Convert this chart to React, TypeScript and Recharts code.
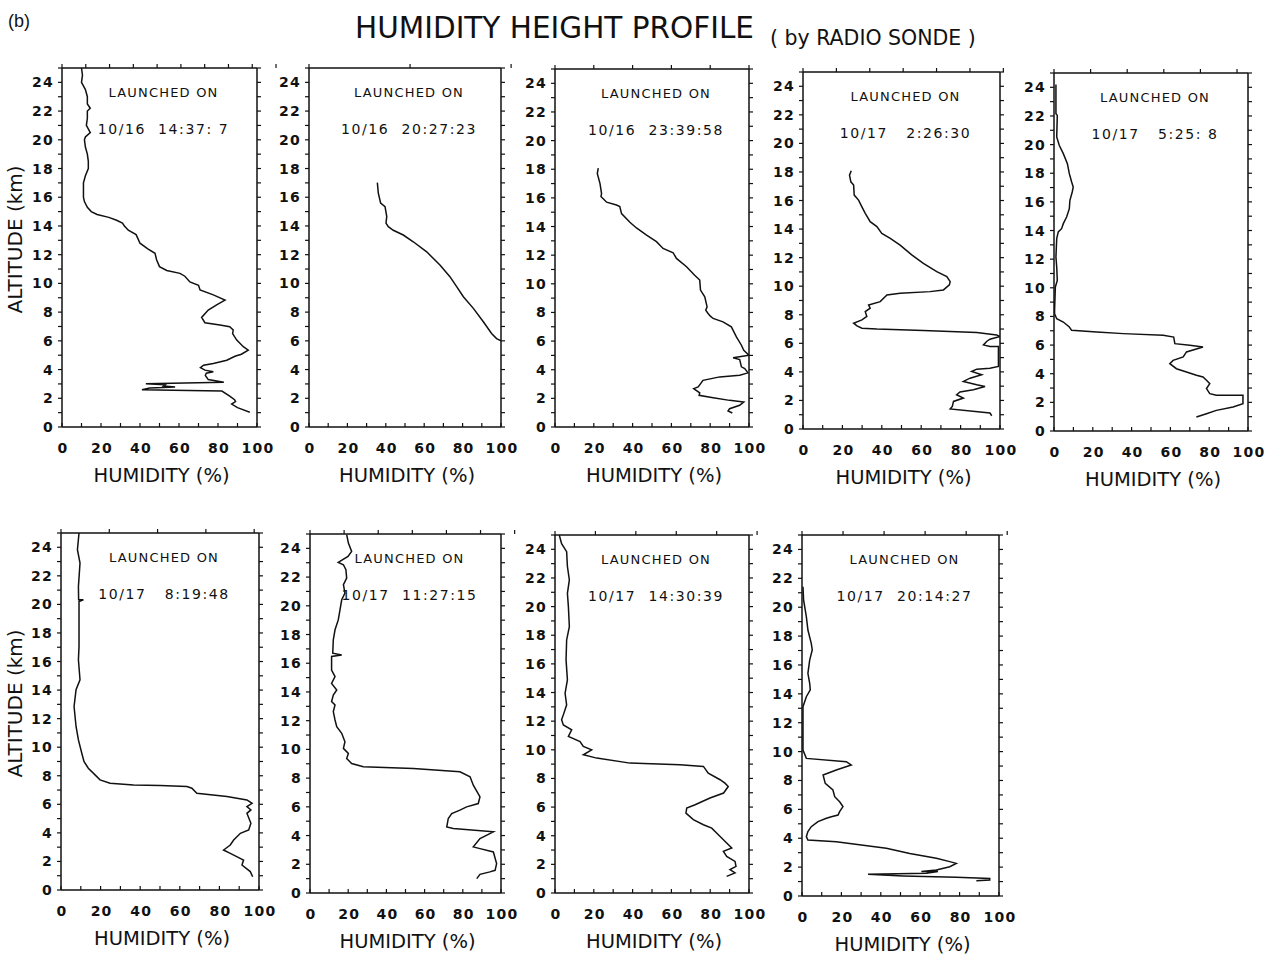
import React from 'react';
import { LineChart, Line, XAxis, YAxis } from 'recharts';

// Each profile: [altitude (km), humidity (%)], from top of sounding downward
const profile1: [number, number][] = [
  [25, 10], [24.5, 10.5], [24, 10], [23.5, 12], [23, 13], [22.5, 13], [22.2, 14.5], [22, 13],
  [21.5, 13], [21, 12.5], [20.5, 14.5], [20.2, 12], [20, 11.5], [19.5, 12], [19, 13], [18.5, 13.5],
  [18, 13.5], [17.5, 12], [17, 11], [16.5, 11], [16, 11], [15.7, 11.5], [15.3, 13], [15, 15],
  [14.8, 18], [14.6, 24], [14.4, 28], [14.2, 31], [14, 32], [13.7, 34], [13.4, 38], [13.1, 39],
  [12.8, 40], [12.4, 44], [12.1, 47.7], [11.65, 48.5], [11.17, 50], [10.9, 53.7], [10.7, 60.5],
  [10.5, 63], [10.1, 65.6], [9.87, 70], [9.54, 70.8], [9.2, 77.6], [8.84, 83.6], [8.5, 79.3],
  [8.14, 75], [7.63, 71.6], [7.26, 73.3], [7.1, 81], [6.98, 86], [6.75, 87.8], [6.5, 87.5],
  [6.05, 89.6], [5.59, 93], [5.35, 95.5], [5.07, 92], [4.93, 88.7], [4.65, 84.5], [4.42, 77.6],
  [4.3, 72.6], [4.13, 71], [3.96, 73.3], [3.84, 77.6], [3.75, 74], [3.6, 73.5], [3.3, 75],
  [3.12, 83], [3.02, 43], [2.95, 53], [2.85, 52], [2.78, 58], [2.72, 45], [2.6, 41], [2.55, 65],
  [2.5, 82], [2.15, 86], [1.9, 88.5], [1.77, 89], [1.6, 87], [1.35, 90], [1.05, 96], [1.0, 96],
];

const profile2: [number, number][] = [
  [17.02, 35.6], [16.28, 36.1], [15.6, 37.3], [15.35, 39.6], [14.65, 40.5], [14.2, 40.1],
  [13.95, 41.3], [13.7, 43.9], [13.37, 49.1], [12.9, 54.3], [12.2, 61.3], [11.28, 68.2],
  [10.47, 73.4], [9.77, 76.9], [9.07, 80.4], [8.26, 85.6], [7.33, 90.8], [6.51, 95.1],
  [6.16, 97.7], [6.0, 100],
];

const profile3: [number, number][] = [
  [18.07, 22.3], [17.7, 21.8], [17.0, 23.2], [16.3, 24.0], [16.1, 23.7], [15.7, 26.6], [15.5, 31.7],
  [15.4, 33.4], [14.9, 34.3], [14.3, 38.6], [13.9, 42.0], [13.4, 47.2], [12.94, 52.3], [12.47, 55.7],
  [12.17, 60.9], [11.77, 62.6], [11.19, 67.8], [10.6, 72.0], [10.26, 74.6], [9.56, 75.0], [9.09, 77.2],
  [8.39, 78.4], [8.16, 77.7], [7.93, 78.9], [7.74, 80.1], [7.58, 81.5], [7.34, 86.6], [6.99, 90.9],
  [6.29, 93.5], [5.71, 96.1], [5.36, 97.3], [5.01, 100], [4.83, 91.8], [4.71, 95.2], [4.2, 96.1],
  [4.08, 97.8], [3.78, 99.5], [3.61, 95.2], [3.5, 84.9], [3.26, 76.3], [2.8, 73.8], [2.68, 71.5],
  [2.38, 74.6], [2.21, 74.3], [2.05, 81.5], [1.86, 90], [1.75, 97.3], [1.52, 95.2], [1.28, 90],
  [1.12, 89.2], [0.98, 91.4],
];

const profile4: [number, number][] = [
  [18.08, 24.5], [17.78, 23.6], [17.31, 24.3], [17.08, 25.7], [16.38, 26.0], [16.03, 28.2],
  [15.56, 29.9], [15.1, 31.6], [14.52, 34.1], [14.17, 37.5], [13.7, 40.0], [13.35, 44.3],
  [12.88, 49.3], [12.19, 55.2], [11.6, 61.1], [11.02, 67.9], [10.67, 73.0], [10.32, 74.7],
  [10.09, 74.3], [9.74, 71.3], [9.62, 64.5], [9.51, 49.3], [9.39, 42.6], [8.92, 39.2], [8.69, 33.3],
  [8.46, 34.1], [8.22, 31.6], [7.88, 32.4], [7.64, 29.9], [7.41, 25.7], [7.22, 27.4], [7.06, 29.9],
  [7.0, 37.5], [6.9, 61.1], [6.76, 88.2], [6.59, 98.3], [6.48, 100], [6.29, 94.9], [6.13, 93.2],
  [5.89, 91.6], [5.78, 94.9], [5.78, 99.2], [4.38, 99.2], [4.26, 94.9], [4.19, 88.2], [4.03, 85.6],
  [3.8, 90.7], [3.56, 84.8], [3.33, 81.4], [3.1, 88.2], [2.98, 92.4], [2.75, 86.5], [2.59, 79.7],
  [2.4, 78.0], [2.17, 81.4], [1.93, 76.4], [1.58, 75.8], [1.4, 74.7], [1.12, 94.9], [0.93, 95.8],
];

const profile5: [number, number][] = [
  [24.2, 1.0], [22.16, 1.0], [22.04, 1.7], [20.53, 1.4], [19.95, 2.7], [19.37, 4.8], [18.67, 6.9],
  [17.97, 7.9], [17.39, 9.1], [17.04, 9.9], [16.69, 9.4], [16.11, 8.2], [15.53, 7.9], [14.94, 6.5],
  [14.48, 4.8], [14.13, 3.9], [13.9, 2.2], [13.43, 1.4], [12.15, 1.0], [11.45, 1.4], [10.52, 1.7],
  [10.06, 0.7], [8.43, 0.3], [8.19, 0.3], [7.84, 1.4], [7.61, 4.8], [7.26, 7.9], [7.03, 9.1],
  [6.91, 22.0], [6.8, 35.7], [6.68, 56.3], [6.56, 61.7], [6.1, 62.3], [5.98, 70.0], [5.87, 76.8],
  [5.52, 68.3], [5.17, 66.6], [4.93, 61.4], [4.7, 59.7], [4.35, 63.1], [4.12, 68.3], [3.89, 73.4],
  [3.77, 76.8], [3.54, 78.6], [3.31, 80.3], [2.96, 78.6], [2.61, 80.3], [2.49, 83.7], [2.49, 97.4],
  [1.91, 97.4], [1.68, 92.3], [1.44, 83.7], [1.21, 78.6], [0.98, 73.4],
];

const profile6: [number, number][] = [
  [25, 9.1], [23.83, 8.3], [22.9, 9.6], [21.26, 8.8], [20.33, 8.9], [20.33, 11.3], [20.2, 9.1],
  [17.06, 9.1], [16.12, 8.8], [14.72, 9.6], [14.02, 7.6], [12.85, 6.6], [11.45, 7.6], [10.51, 8.8],
  [9.58, 10.5], [9.0, 11.6], [8.53, 13.8], [8.06, 17.2], [7.71, 19.7], [7.48, 24.8], [7.36, 36.6],
  [7.31, 50.1], [7.24, 63.6], [7.13, 66.1], [6.78, 68.6], [6.54, 83.8], [6.31, 93.9], [6.07, 96.5],
  [5.84, 93.9], [5.61, 95.9], [5.37, 93.9], [4.67, 95.9], [4.21, 94.8], [3.97, 90.6], [3.5, 87.2],
  [3.15, 85.5], [2.8, 82.1], [2.57, 85.5], [2.1, 92.2], [1.75, 91.4], [1.29, 95.6], [0.93, 96.8],
];

const profile7: [number, number][] = [
  [24.95, 19.2], [24.37, 20.1], [23.79, 21.8], [23.44, 19.9], [23.02, 14.8], [22.86, 17.5],
  [22.51, 18.8], [21.93, 19.2], [21.47, 17.5], [20.88, 18.3], [20.42, 16.6], [19.72, 15.7],
  [19.02, 14.8], [18.33, 13.1], [17.63, 12.2], [16.7, 11.9], [16.58, 16.6], [16.47, 11.3],
  [15.53, 11.3], [15.07, 13.1], [14.6, 11.3], [14.14, 14.0], [13.79, 12.2], [13.33, 11.3],
  [13.09, 13.1], [12.63, 12.2], [12.05, 13.1], [11.58, 14.0], [11.12, 16.6], [10.53, 18.3],
  [10.07, 17.5], [9.72, 20.1], [9.37, 19.2], [9.02, 21.8], [8.79, 27.9], [8.67, 54.1], [8.44, 78.5],
  [8.09, 83.8], [7.51, 85.5], [6.7, 89.0], [6.23, 88.1], [6.0, 82.0], [5.77, 78.5], [5.53, 74.2],
  [5.19, 72.4], [4.6, 71.6], [4.49, 75.0], [4.26, 96.0], [3.79, 89.0], [3.21, 85.5], [3.09, 89.0],
  [2.86, 96.0], [2.05, 97.7], [1.58, 96.9], [1.47, 94.2], [1.3, 89.0], [1.0, 87.3],
];

const profile8: [number, number][] = [
  [25, 2.2], [24.4, 3.4], [23.84, 6.0], [22.8, 6.4], [21.86, 7.4], [20.93, 6.4], [20.0, 6.9],
  [18.6, 7.4], [17.67, 6.0], [16.28, 5.7], [14.88, 6.4], [13.95, 5.2], [13.14, 6.0], [12.56, 4.6],
  [12.09, 3.4], [11.74, 4.3], [11.4, 8.6], [10.93, 6.9], [10.58, 12.9], [10.23, 14.6], [10.0, 18.9],
  [9.65, 14.6], [9.42, 21.5], [9.07, 38.7], [8.95, 64.4], [8.84, 76.5], [8.37, 79.0], [7.91, 85.1],
  [7.67, 87.6], [7.44, 89.3], [6.98, 86.9], [6.63, 79.9], [6.16, 72.2], [5.93, 67.9], [5.58, 67.5],
  [5.12, 71.3], [4.77, 76.5], [4.53, 80.8], [4.19, 83.3], [3.84, 85.9], [3.49, 88.5], [3.14, 91.1],
  [2.91, 86.8], [2.56, 88.5], [2.21, 92.8], [1.86, 93.3], [1.63, 90.2], [1.4, 92.8], [1.16, 88.5],
];

const profile9: [number, number][] = [
  [21.42, 0.5], [20.5, 0.8], [19.34, 2.2], [18.42, 3.0], [17.5, 4.7], [17.04, 5.2], [16.34, 3.9],
  [15.42, 3.0], [14.73, 3.9], [14.27, 4.2], [13.8, 2.2], [13.11, 0.5], [10.11, 0.5], [9.53, 2.2],
  [9.3, 22.5], [9.07, 25.0], [8.73, 17.4], [8.38, 10.7], [7.8, 11.8], [7.34, 15.7], [6.88, 16.6],
  [6.53, 19.1], [6.19, 20.8], [5.84, 19.1], [5.61, 18.3], [5.49, 14.9], [5.38, 12.4], [5.15, 8.1],
  [4.8, 4.7], [4.46, 3.0], [4.11, 2.2], [3.88, 3.0], [3.76, 17.4], [3.3, 42.8], [2.95, 54.7],
  [2.61, 68.2], [2.38, 75.0], [2.26, 78.3], [2.03, 75.0], [1.8, 68.2], [1.69, 60.6], [1.69, 69.0],
  [1.57, 63.1], [1.5, 33.5], [1.39, 51.3], [1.29, 78.3], [1.22, 95.3], [1.1, 95.3], [1.06, 88.5],
];

const launchDates = [
  '10/16  14:37: 7',
  '10/16  20:27:23',
  '10/16  23:39:58',
  '10/17   2:26:30',
  '10/17   5:25: 8',
  '10/17   8:19:48',
  '10/17  11:27:15',
  '10/17  14:30:39',
  '10/17  20:14:27',
];

const humidityTicks = [0, 10, 20, 30, 40, 50, 60, 70, 80, 90, 100];
const altitudeTicks = [0, 1, 2, 3, 4, 5, 6, 7, 8, 9, 10, 11, 12, 13, 14, 15, 16, 17, 18, 19, 20, 21, 22, 23, 24, 25];

const FONT = '"DejaVu Sans", sans-serif';
const INK = '#111';

const toRows = (p: [number, number][]) => p.map(([alt, h]) => ({ alt, h }));

const PANELS = [
  { rows: toRows(profile1), date: launchDates[0], left: 62, top: 68, w: 195, h: 359 },
  { rows: toRows(profile2), date: launchDates[1], left: 309, top: 68, w: 192, h: 359 },
  { rows: toRows(profile3), date: launchDates[2], left: 555, top: 69, w: 194, h: 358 },
  { rows: toRows(profile4), date: launchDates[3], left: 803, top: 72, w: 197, h: 357 },
  { rows: toRows(profile5), date: launchDates[4], left: 1054, top: 73, w: 194, h: 358 },
  { rows: toRows(profile6), date: launchDates[5], left: 61, top: 533, w: 198, h: 357 },
  { rows: toRows(profile7), date: launchDates[6], left: 310, top: 534, w: 191, h: 359 },
  { rows: toRows(profile8), date: launchDates[7], left: 555, top: 535, w: 194, h: 358 },
  { rows: toRows(profile9), date: launchDates[8], left: 802, top: 535, w: 197, h: 361 },
];

const tickText = { fontFamily: FONT, fontSize: 14, fontWeight: 'bold', letterSpacing: 1.2, fill: INK } as const;

const LeftTick = (props: any) => {
  const { x, y, payload } = props;
  const v = payload.value;
  return (
    <g>
      <line x1={x - 4} x2={x} y1={y} y2={y} stroke={INK} strokeWidth={1.2} />
      {v % 2 === 0 && v <= 24 ? (
        <text x={x - 8} y={y + 5} textAnchor="end" {...tickText}>{v}</text>
      ) : null}
    </g>
  );
};

const RightTick = (props: any) => {
  const { x, y } = props;
  return <line x1={x} x2={x + 4} y1={y} y2={y} stroke={INK} strokeWidth={1.2} />;
};

const BottomTick = (props: any) => {
  const { x, y, payload } = props;
  const v = payload.value;
  return (
    <g>
      <line x1={x} x2={x} y1={y} y2={y - 4} stroke={INK} strokeWidth={1.2} />
      {v % 20 === 0 ? (
        <text x={x + 1} y={y + 26} textAnchor="middle" {...tickText}>{v}</text>
      ) : null}
    </g>
  );
};

const TopTick = (props: any) => {
  const { x, y } = props;
  return <line x1={x} x2={x} y1={y} y2={y - 4} stroke={INK} strokeWidth={1.2} />;
};

const axisLine = { stroke: INK, strokeWidth: 1.5 };

function Panel({ p }: { p: (typeof PANELS)[number] }) {
  return (
    <div style={{ position: 'absolute', left: p.left - 40, top: p.top - 20 }}>
      <LineChart
        width={p.w + 60}
        height={p.h + 60}
        data={p.rows}
        margin={{ top: 10, right: 10, bottom: 0, left: 0 }}
      >
        <XAxis
          xAxisId="b"
          dataKey="h"
          type="number"
          domain={[0, 100]}
          allowDataOverflow
          ticks={humidityTicks}
          interval={0}
          height={40}
          tickSize={0}
          tickMargin={0}
          tickLine={false}
          axisLine={axisLine}
          tick={(t: any) => <BottomTick {...t} />}
        />
        <XAxis
          xAxisId="t"
          orientation="top"
          type="number"
          domain={[0, 100]}
          allowDataOverflow
          ticks={humidityTicks}
          interval={0}
          height={10}
          tickSize={0}
          tickMargin={0}
          tickLine={false}
          axisLine={axisLine}
          tick={(t: any) => <TopTick {...t} />}
        />
        <YAxis
          yAxisId="l"
          type="number"
          domain={[0, 25]}
          allowDataOverflow
          ticks={altitudeTicks}
          interval={0}
          width={40}
          tickSize={0}
          tickMargin={0}
          tickLine={false}
          axisLine={axisLine}
          tick={(t: any) => <LeftTick {...t} />}
        />
        <YAxis
          yAxisId="r"
          orientation="right"
          type="number"
          domain={[0, 25]}
          allowDataOverflow
          ticks={altitudeTicks}
          interval={0}
          width={10}
          tickSize={0}
          tickMargin={0}
          tickLine={false}
          axisLine={axisLine}
          tick={(t: any) => <RightTick {...t} />}
        />
        <Line
          xAxisId="b"
          yAxisId="l"
          dataKey="alt"
          type="linear"
          stroke={INK}
          strokeWidth={1.5}
          dot={false}
          activeDot={false}
          isAnimationActive={false}
        />
      </LineChart>
    </div>
  );
}

export default function App() {
  return (
    <div style={{ position: 'absolute', left: 0, top: 0, width: 1275, height: 956, background: '#fff' }}>
      {PANELS.map((p, i) => (
        <Panel key={i} p={p} />
      ))}
      <svg
        width={1275}
        height={956}
        style={{ position: 'absolute', left: 0, top: 0, pointerEvents: 'none' }}
      >
        <text x={8} y={27} fontFamily='"Liberation Sans", Arial, sans-serif' fontSize={18} fill={INK}>(b)</text>
        <text x={355} y={38} fontFamily={FONT} fontSize={29.5} fill={INK}>HUMIDITY HEIGHT PROFILE</text>
        <text x={770} y={45} fontFamily={FONT} fontSize={20.5} fill={INK} style={{ whiteSpace: 'pre' }}>( by RADIO SONDE )</text>
        {PANELS.map((p, i) => {
          const cx = p.left + p.w / 2 + 4;
          return (
            <g key={i}>
              <text x={cx} y={p.top + 29} textAnchor="middle" fontFamily={FONT} fontSize={13} letterSpacing={1.2} fill={INK}>
                LAUNCHED ON
              </text>
              <text x={cx} y={p.top + 66} textAnchor="middle" fontFamily={FONT} fontSize={14} letterSpacing={1.6} fill={INK} style={{ whiteSpace: 'pre' }}>
                {p.date}
              </text>
              <text x={p.left + p.w / 2 + 2} y={p.top + p.h + 55} textAnchor="middle" fontFamily={FONT} fontSize={19.5} fill={INK}>
                HUMIDITY (%)
              </text>
            </g>
          );
        })}
        {[PANELS[0], PANELS[5]].map((p, i) => (
          <text
            key={i}
            transform={`translate(22, ${p.top + p.h / 2 - 8}) rotate(-90)`}
            textAnchor="middle"
            fontFamily={FONT}
            fontSize={20}
            fill={INK}
          >
            ALTITUDE (km)
          </text>
        ))}
      </svg>
    </div>
  );
}
